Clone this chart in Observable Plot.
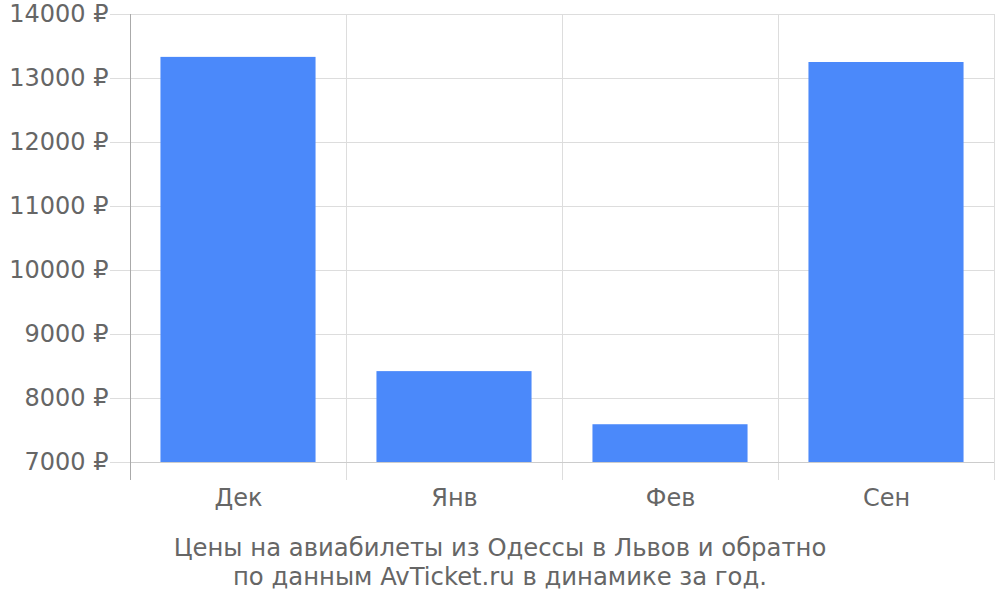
<!DOCTYPE html>
<html>
<head>
<meta charset="utf-8">
<script src="https://cdn.jsdelivr.net/npm/d3@7"></script>
<script src="https://cdn.jsdelivr.net/npm/@observablehq/plot@0.6"></script>
<style>
  html, body { margin: 0; padding: 0; background: #fff; }
  #chart { width: 1000px; height: 600px; overflow: hidden; }
  .caption { font-family: "DejaVu Sans", sans-serif; font-size: 24.3px; color: #666; text-align: center; line-height: 29px; padding-top: 13px; }
</style>
</head>
<body>
<div id="chart"></div>
<script>
const months = ["Дек", "Янв", "Фев", "Сен"];
const prices = [13330, 8420, 7590, 13250];
const yTicks = [7000, 8000, 9000, 10000, 11000, 12000, 13000, 14000];
const captionLines = ["Цены на авиабилеты из Одессы в Львов и обратно", "по данным AvTicket.ru в динамике за год."];

const data = months.map((m, i) => ({ month: m, index: i, price: prices[i] }));
const pad = 0.141;
const boundaries = d3.range(months.length + 1);
const centers = months.map((m, i) => i + 0.5);

const plot = Plot.plot({
  width: 1000,
  height: 520,
  marginTop: 14,
  marginBottom: 58,
  marginLeft: 130,
  marginRight: 6,
  style: { fontFamily: "'DejaVu Sans', sans-serif", fontSize: "24px", background: "#fff" },
  x: { type: "linear", domain: [0, months.length] },
  y: { domain: [7000, 14000] },
  marks: [
    Plot.gridY(yTicks, { stroke: "#ddd", strokeOpacity: 1 }),
    Plot.ruleX(boundaries.slice(1), { stroke: "#ddd", insetBottom: -18 }),
    Plot.rectY(data, { x1: d => d.index + pad, x2: d => d.index + 1 - pad, y1: 7000, y2: "price", fill: "#4b89fa" }),
    Plot.ruleY([7000], { stroke: "#ccc" }),
    Plot.ruleX([0], { stroke: "#aaa", insetBottom: -18 }),
    Plot.axisY(yTicks, { tickFormat: d => d + " ₽", tickSize: 20, tickPadding: 2, stroke: "#ddd", fill: "#666", fontSize: 24, label: null }),
    Plot.axisX(centers, { tickFormat: d => months[Math.floor(d)], tickSize: 0, tickPadding: 26, fill: "#666", fontSize: 24, label: null })
  ]
});

const chart = document.getElementById("chart");
chart.appendChild(plot);
const cap = document.createElement("div");
cap.className = "caption";
cap.innerHTML = captionLines.map(l => `<div>${l}</div>`).join("");
chart.appendChild(cap);
</script>
</body>
</html>
